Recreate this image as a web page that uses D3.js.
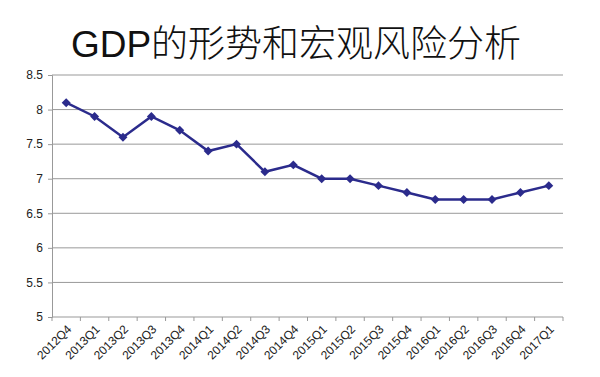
<!DOCTYPE html>
<html>
<head>
    <meta charset="utf-8">
    <title>GDP</title>
    <style>
        body { margin: 0; background: #fff; }
        svg { font-family: 'Liberation Sans', Arial, 'Noto Sans CJK SC', sans-serif; }
        .title { font-family: 'Liberation Sans', 'Noto Sans CJK SC', sans-serif; }
        .tick text { fill: #222; font-size: 12px; }
    </style>
</head>
<body>
    <figure style="margin:0"></figure>
    <script src="https://d3js.org/d3.v7.min.js"></script>
    <script>
        // data
        const quarters = ['2012Q4', '2013Q1', '2013Q2', '2013Q3', '2013Q4', '2014Q1', '2014Q2', '2014Q3', '2014Q4',
            '2015Q1', '2015Q2', '2015Q3', '2015Q4', '2016Q1', '2016Q2', '2016Q3', '2016Q4', '2017Q1']
        const gdp = [8.1, 7.9, 7.6, 7.9, 7.7, 7.4, 7.5, 7.1, 7.2, 7.0, 7.0, 6.9, 6.8, 6.7, 6.7, 6.7, 6.8, 6.9]
        const yTicks = [5, 5.5, 6, 6.5, 7, 7.5, 8, 8.5]

        const width = 600, height = 377
        const margin = { left: 52, right: 37, top: 75, bottom: 60 }

        const svg = d3.select('figure').append('svg')
            .attr('width', width).attr('height', height)

        // title: latin part regular, chinese part light
        const title = svg.append('text')
            .attr('class', 'title')
            .attr('x', 296).attr('y', 57)
            .attr('text-anchor', 'middle')
            .style('font-size', '37px')
            .style('fill', '#111')
        title.append('tspan').text('GDP')
        title.append('tspan').style('font-weight', 300).text('的形势和宏观风险分析')

        const x = d3.scaleBand()
            .domain(quarters)
            .range([margin.left, width - margin.right])

        const y = d3.scaleLinear()
            .domain([5, 8.5])
            .range([height - margin.bottom, margin.top])

        // gridlines
        svg.append('g')
            .selectAll('line')
            .data(yTicks.filter(d => d > 5))
            .join('line')
            .attr('x1', margin.left).attr('x2', width - margin.right)
            .attr('y1', d => y(d)).attr('y2', d => y(d))
            .attr('stroke', '#999').attr('stroke-width', 1)

        // y axis
        const yAxis = svg.append('g')
            .attr('transform', `translate(${margin.left},0)`)
            .call(d3.axisLeft(y).tickValues(yTicks).tickFormat(d3.format('')).tickSize(4).tickPadding(5))
        yAxis.attr('font-size', 12)
        yAxis.select('.domain').attr('stroke', '#999')
        yAxis.selectAll('.tick line').attr('stroke', '#999')

        // x axis (ticks at band edges)
        const xAxis = svg.append('g')
            .attr('transform', `translate(0,${height - margin.bottom})`)
        xAxis.append('line')
            .attr('x1', margin.left).attr('x2', width - margin.right)
            .attr('stroke', '#999')
        xAxis.selectAll('.edge')
            .data(quarters.concat(['end']))
            .join('line')
            .attr('class', 'edge')
            .attr('x1', (d, i) => margin.left + i * x.step())
            .attr('x2', (d, i) => margin.left + i * x.step())
            .attr('y1', 0).attr('y2', 4)
            .attr('stroke', '#999')
        xAxis.selectAll('text')
            .data(quarters)
            .join('text')
            .attr('transform', d => `translate(${x(d) + x.bandwidth() / 2 + 3},${10}) rotate(-45)`)
            .attr('text-anchor', 'end')
            .attr('dy', '0.35em')
            .style('font-size', '12px')
            .style('fill', '#222')
            .text(d => d)

        // line
        const line = d3.line()
            .x((d, i) => x(quarters[i]) + x.bandwidth() / 2)
            .y(d => y(d))

        svg.append('path')
            .datum(gdp)
            .attr('d', line)
            .attr('fill', 'none')
            .attr('stroke', '#2b2b8c')
            .attr('stroke-width', 2.5)

        // diamond markers (rotated squares)
        svg.selectAll('.marker')
            .data(gdp)
            .join('path')
            .attr('class', 'marker')
            .attr('d', d3.symbol().type(d3.symbolSquare).size(40))
            .attr('transform', (d, i) => `translate(${x(quarters[i]) + x.bandwidth() / 2},${y(d)}) rotate(45)`)
            .attr('fill', '#2b2b8c')
    </script>
</body>
</html>
